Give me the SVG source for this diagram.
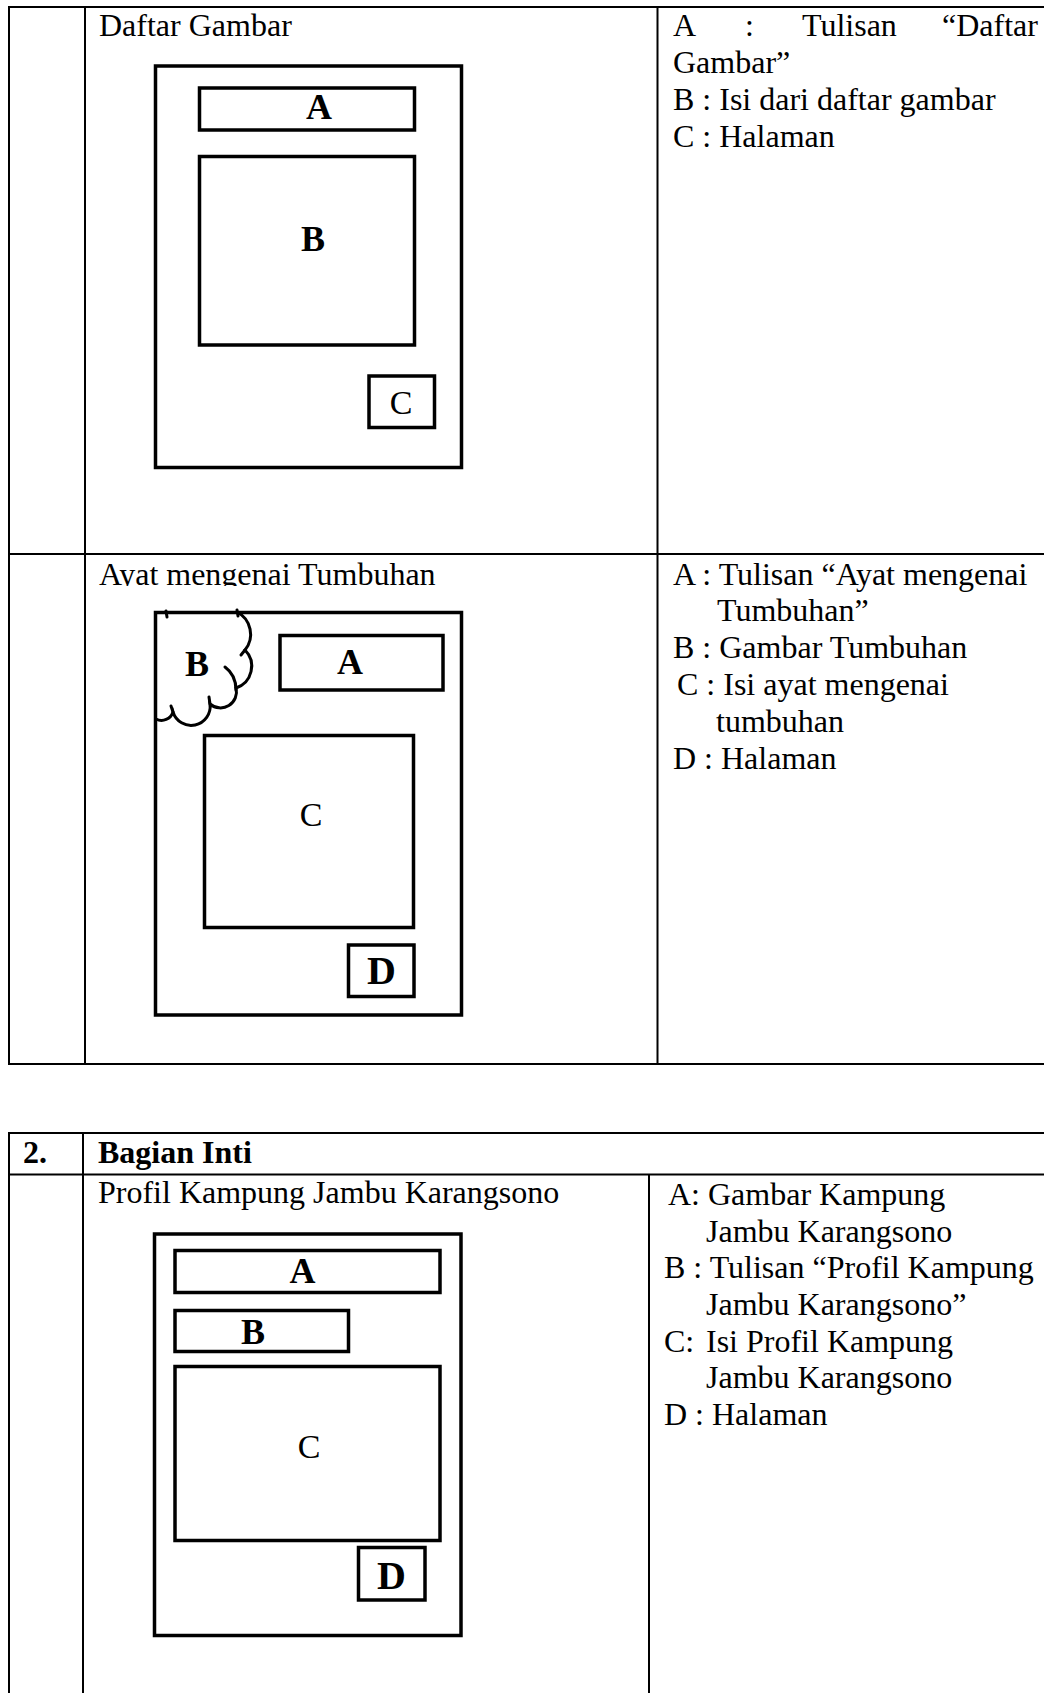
<svg xmlns="http://www.w3.org/2000/svg" width="1044" height="1693" viewBox="0 0 1044 1693">
<style>
.ln{stroke:#000;stroke-width:2;fill:none}
.bx{stroke:#000;stroke-width:3.5;fill:none}
.cl{stroke:#000;stroke-width:3;fill:none;stroke-linecap:round}
.t{font-family:"Liberation Serif","Times New Roman",serif;font-size:32px;fill:#000}
.tb{font-family:"Liberation Serif","Times New Roman",serif;font-size:32px;font-weight:bold;fill:#000}
.lb{font-family:"Liberation Serif","Times New Roman",serif;font-size:36px;font-weight:bold;fill:#000;text-anchor:middle}
.lr{font-family:"Liberation Serif","Times New Roman",serif;font-size:34px;fill:#000;text-anchor:middle}
</style>
<defs>
<clipPath id="clipTitle2"><rect x="90" y="556" width="560" height="30"/></clipPath>
</defs>
<rect width="1044" height="1693" fill="#fff"/>

<g id="table-lines">
<line class="ln" x1="9" y1="7" x2="1044" y2="7"/>
<line class="ln" x1="9" y1="6" x2="9" y2="1065"/>
<line class="ln" x1="85" y1="6" x2="85" y2="1065"/>
<line class="ln" x1="657.5" y1="6" x2="657.5" y2="1065"/>
<line class="ln" x1="9" y1="554" x2="1044" y2="554"/>
<line class="ln" x1="9" y1="1064" x2="1044" y2="1064"/>
<line class="ln" x1="9" y1="1133" x2="1044" y2="1133"/>
<line class="ln" x1="9" y1="1174.5" x2="1044" y2="1174.5"/>
<line class="ln" x1="9" y1="1132" x2="9" y2="1693"/>
<line class="ln" x1="83" y1="1132" x2="83" y2="1693"/>
<line class="ln" x1="649" y1="1174" x2="649" y2="1693"/>
</g>

<g id="row-daftar-gambar">
<text class="t" x="99" y="36">Daftar Gambar</text>
<g id="dg-page">
<rect class="bx" x="155.5" y="66" width="306" height="401.5"/>
<g id="dg-A"><rect class="bx" x="199.5" y="88" width="215" height="42"/><text class="lb" x="319" y="119">A</text></g>
<g id="dg-B"><rect class="bx" x="199.5" y="156.5" width="215" height="188.5"/><text class="lb" x="313" y="251">B</text></g>
<g id="dg-C"><rect class="bx" x="369" y="376" width="65.5" height="51.5"/><text class="lr" x="401" y="414">C</text></g>
</g>
<g id="dg-legend">
<text class="t" x="673" y="36">A</text>
<text class="t" x="745" y="36">:</text>
<text class="t" x="802" y="36">Tulisan</text>
<text class="t" x="942" y="36">“Daftar</text>
<text class="t" x="673" y="73">Gambar”</text>
<text class="t" x="673" y="110">B : Isi dari daftar gambar</text>
<text class="t" x="673" y="147">C : Halaman</text>
</g>
</g>

<g id="row-ayat">
<text class="t" x="99" y="585" clip-path="url(#clipTitle2)">Ayat mengenai Tumbuhan</text>
<g id="ay-page">
<rect class="bx" x="155.5" y="612.5" width="306" height="402.5"/>
<g id="ay-B">
<path class="cl" d="M237,612 A25,25 0 0 1 245,650 A23,23 0 0 1 236,688 A16,16 0 0 1 210,704 A19,19 0 0 1 173,712 A12,12 0 0 1 156,719"/>
<path class="cl" d="M225,667 Q236,675 236,690"/>
<path class="cl" d="M245,650 L241,655"/>
<path class="cl" d="M210,704 L209,697"/>
<path class="cl" d="M173,712 L171,706"/>
<path class="cl" d="M166,611 L167,617"/>
<path class="cl" d="M237,610 L238,616"/>
<text class="lb" x="197" y="676">B</text>
</g>
<g id="ay-A"><rect class="bx" x="280" y="635.5" width="163" height="54.5"/><text class="lb" x="350" y="674">A</text></g>
<g id="ay-C"><rect class="bx" x="204.5" y="735.5" width="209" height="192"/><text class="lr" x="311" y="826">C</text></g>
<g id="ay-D"><rect class="bx" x="348.5" y="945" width="65.5" height="51.5"/><text class="lb" x="381.5" y="984" style="font-size:40px">D</text></g>
</g>
<g id="ay-legend">
<text class="t" x="673" y="585">A : Tulisan “Ayat mengenai</text>
<text class="t" x="717" y="621">Tumbuhan”</text>
<text class="t" x="673" y="658">B : Gambar Tumbuhan</text>
<text class="t" x="677" y="695">C : Isi ayat mengenai</text>
<text class="t" x="716" y="732">tumbuhan</text>
<text class="t" x="673" y="769">D : Halaman</text>
</g>
</g>

<g id="section-2-header">
<text class="tb" x="23" y="1163">2.</text>
<text class="tb" x="98" y="1163">Bagian Inti</text>
</g>

<g id="row-profil">
<text class="t" x="98" y="1203">Profil Kampung Jambu Karangsono</text>
<g id="pk-page">
<rect class="bx" x="154.5" y="1234" width="306.5" height="401.5"/>
<g id="pk-A"><rect class="bx" x="175" y="1250.5" width="265" height="42"/><text class="lb" x="302.5" y="1283">A</text></g>
<g id="pk-B"><rect class="bx" x="175" y="1310.5" width="173.5" height="41"/><text class="lb" x="253" y="1343.5">B</text></g>
<g id="pk-C"><rect class="bx" x="175" y="1366.5" width="265" height="174"/><text class="lr" x="309" y="1457.5">C</text></g>
<g id="pk-D"><rect class="bx" x="358.5" y="1547.5" width="66.5" height="52.5"/><text class="lb" x="391.5" y="1589" style="font-size:40px">D</text></g>
</g>
<g id="pk-legend">
<text class="t" x="668" y="1205">A: Gambar Kampung</text>
<text class="t" x="706" y="1242">Jambu Karangsono</text>
<text class="t" x="664" y="1278">B : Tulisan “Profil Kampung</text>
<text class="t" x="706" y="1315">Jambu Karangsono”</text>
<text class="t" x="664" y="1352">C:</text>
<text class="t" x="706" y="1352">Isi Profil Kampung</text>
<text class="t" x="706" y="1388">Jambu Karangsono</text>
<text class="t" x="664" y="1425">D : Halaman</text>
</g>
</g>
</svg>
